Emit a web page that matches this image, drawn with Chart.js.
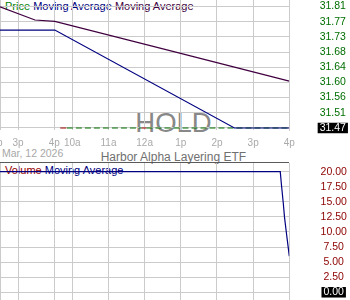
<!DOCTYPE html>
<html>
<head>
<meta charset="utf-8">
<script src="https://cdn.jsdelivr.net/npm/chart.js@4/dist/chart.umd.min.js"></script>
<style>
body { margin: 0; width: 350px; height: 300px; position: relative; overflow: hidden; background: #fff; font-family: "Liberation Sans", Arial, sans-serif; }
.t { position: absolute; white-space: nowrap; line-height: 1; z-index: 0; }
canvas { position: absolute; left: 0; z-index: 1; }
#topChart { top: 0; }
#volChart { top: 163px; }
#sep { position: absolute; left: 0; top: 162px; width: 289px; height: 1px; background: #5a5a5a; }
</style>
</head>
<body>
<div class="t" style="left:5px;top:0.7px;font-size:11px"><span style="color:#008000">Price</span> <span style="color:#000080">Moving Average</span> <span style="color:#400040">Moving Average</span></div>
<div class="t" style="left:123.5px;top:108.7px;width:100px;text-align:center;font-size:27.5px;color:#888">HOLD</div>
<div class="t" style="left:2px;top:148.4px;font-size:10.5px;color:#a8a8a8">Mar, 12 2026</div>
<div class="t" style="left:100.7px;top:150.8px;font-size:12px;color:#707070">Harbor Alpha Layering ETF</div>
<div id="sep"></div>
<div class="t" style="left:5px;top:164.7px;font-size:11px"><span style="color:#990000">Volume</span> <span style="color:#000080">Moving Average</span></div>
<canvas id="topChart" width="350" height="162"></canvas>
<canvas id="volChart" width="350" height="137"></canvas>
<script>
// x = minutes from 2:30p of the previous session (its 4p close lines up with 9:30a today)
const timeTicks = [-5, 0, 30, 90, 120, 180, 240, 300, 360, 420, 480];
const timeLabels = ['2p', '', '3p', '4p', '10a', '11a', '12a', '1p', '2p', '3p', '4p'];

// price panel
const priceLabels = ['31.47', '31.51', '31.56', '31.60', '31.64', '31.68', '31.73', '31.77', '31.81'];
const priceX = [100, 111, 235, 243, 480];
const priceY = [31.47, 31.47, 31.47, 31.47, 31.47];
const priceSegColors = ['#a00000', '#007000', '#a00000', '#007000'];
const maFastX = [0, 91, 389, 480];
const maFastY = [31.744, 31.744, 31.47, 31.47];
const maSlowX = [0, 58, 91, 290, 480];
const maSlowY = [31.809, 31.772, 31.768, 31.683, 31.601];

// volume panel
const volLabels = ['0.00', '2.50', '5.00', '7.50', '10.00', '12.50', '15.00', '17.50', '20.00'];
const volTickValues = [0, 2.5, 5, 7.5, 10, 12.5, 15, 17.5, 20];
const volMaX = [0, 465, 467, 470, 472, 475, 477, 480];
const volMaY = [20, 20, 17.8, 14.8, 12.5, 10, 8.4, 6];

const FAMILY = '"Liberation Sans", Arial, sans-serif';
const GRID = '#cbcbcb';
const PLOT_RIGHT = 289.3;

function pts(xs, ys) { return xs.map((x, i) => ({ x: x, y: ys[i] })); }

function widest(labels, size) {
    const c = document.createElement('canvas').getContext('2d');
    c.font = size + 'px ' + FAMILY;
    return Math.max(...labels.map(l => c.measureText(l).width));
}

// force box sizes and drop the automatic label padding
function fixBox(w, h) {
    return function (s) {
        if (w != null) s.width = w;
        if (h != null) s.height = h;
        s.paddingTop = s.paddingBottom = s.paddingLeft = s.paddingRight = 0;
    };
}

function xScale(showLabels, height) {
    return {
        type: 'linear', min: 0, max: 480,
        afterBuildTicks: s => { s.ticks = timeTicks.map(v => ({ value: v })); },
        afterFit: fixBox(null, height),
        grid: { color: GRID, drawTicks: false },
        border: { display: false },
        ticks: {
            display: showLabels, autoSkip: false, maxRotation: 0, padding: 7,
            color: '#aaaaaa', font: { family: FAMILY, size: 10 },
            callback: (v, i) => timeLabels[i]
        }
    };
}

function yScale(min, max, values, labels, color, centerX) {
    const size = 10.5;
    return {
        type: 'linear', position: 'right', min: min, max: max,
        afterBuildTicks: s => { s.ticks = values.map(v => ({ value: v })); },
        afterFit: fixBox(350 - PLOT_RIGHT, null),
        grid: { color: GRID, drawTicks: false },
        border: { color: GRID },
        ticks: {
            crossAlign: 'center',
            padding: centerX - PLOT_RIGHT - widest(labels, size) / 2,
            font: { family: FAMILY, size: size, lineHeight: 1 },
            color: c => c.index === 0 ? '#ffffff' : color,
            showLabelBackdrop: c => c.index === 0,
            backdropColor: '#000000',
            backdropPadding: { top: 0, bottom: 0, left: 2, right: 2 },
            callback: (v, i) => labels[i]
        }
    };
}

const baseOpts = {
    responsive: false,
    animation: false,
    layout: { padding: 0, autoPadding: false },
    plugins: { legend: { display: false }, tooltip: { enabled: false } },
    elements: { point: { radius: 0 }, line: { tension: 0 } }
};

// evenly spaced price ticks from 31.47 to 31.81
const priceTickValues = priceLabels.map((l, i) => 31.47 + i * (31.81 - 31.47) / (priceLabels.length - 1));

new Chart(document.getElementById('topChart'), {
    type: 'line',
    data: {
        datasets: [
            { data: pts(maSlowX, maSlowY), borderColor: '#400040', borderWidth: 1.2 },
            { data: pts(maFastX, maFastY), borderColor: '#000080', borderWidth: 1.2 },
            {
                data: pts(priceX, priceY), borderColor: '#007000', borderWidth: 1.2, borderDash: [6, 3],
                segment: { borderColor: c => priceSegColors[c.p0DataIndex] }
            }
        ]
    },
    options: Object.assign({}, baseOpts, {
        scales: {
            x: xScale(true, 32),
            y: yScale(31.4644, 31.828, priceTickValues, priceLabels, '#006e00', 332.8)
        }
    })
});

new Chart(document.getElementById('volChart'), {
    type: 'line',
    data: {
        datasets: [
            { data: pts(volMaX, volMaY), borderColor: '#000080', borderWidth: 1.2 }
        ]
    },
    options: Object.assign({}, baseOpts, {
        scales: {
            x: xScale(false, 0),
            y: yScale(-1.28, 21.44, volTickValues, volLabels, '#8c0000', 333.7)
        }
    })
});
</script>
</body>
</html>
